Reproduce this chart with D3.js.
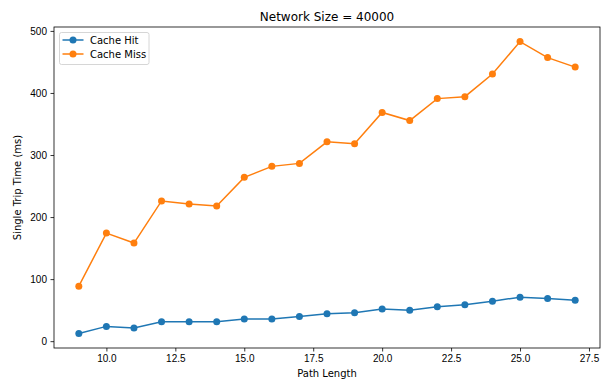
<!DOCTYPE html>
<html>
<head>
<meta charset="utf-8">
<script src="https://cdn.jsdelivr.net/npm/d3@7"></script>
<style>
  html, body { margin: 0; padding: 0; background: #fff; }
  svg { display: block; font-family: "DejaVu Sans", sans-serif; }
</style>
</head>
<body>
<svg id="chart" width="605" height="381"></svg>
<script>
// Path lengths measured
const pathLengths = [9, 10, 11, 12, 13, 14, 15, 16, 17, 18, 19, 20, 21, 22, 23, 24, 25, 26, 27];
// Single trip time (ms) per path length
const cacheHit  = [12.5, 23.8, 21.1, 31.3, 31.3, 31.3, 35.6, 35.6, 39.8, 44.3, 45.7, 51.7, 50.0, 55.4, 58.6, 64.5, 70.9, 68.7, 66.1];
const cacheMiss = [88.6, 174.2, 158.1, 226.0, 221.2, 218.0, 264.0, 281.7, 286.5, 321.3, 318.0, 368.6, 355.5, 390.9, 394.0, 430.5, 482.8, 457.0, 441.7];
const xTicks = [10, 12.5, 15, 17.5, 20, 22.5, 25, 27.5];
const yTicks = [0, 100, 200, 300, 400, 500];
const seriesNames = ["Cache Hit", "Cache Miss"];
const seriesColors = ["#1f77b4", "#ff7f0e"];

const series = [
  { name: seriesNames[0], color: seriesColors[0], values: cacheHit },
  { name: seriesNames[1], color: seriesColors[1], values: cacheMiss }
];

const svg = d3.select("#chart");
const plot = { left: 54, right: 600, top: 27, bottom: 348 };

// Matplotlib-style 5% margins around the data range
const xMin = d3.min(pathLengths), xMax = d3.max(pathLengths);
const xPad = (xMax - xMin) * 0.05;
const allY = cacheHit.concat(cacheMiss);
const yMin = d3.min(allY), yMax = d3.max(allY);
const yPad = (yMax - yMin) * 0.05;

const x = d3.scaleLinear().domain([xMin - xPad, xMax + xPad]).range([plot.left, plot.right]);
const y = d3.scaleLinear().domain([yMin - yPad, yMax + yPad]).range([plot.bottom, plot.top]);

// Axes
const xAxis = d3.axisBottom(x).tickValues(xTicks).tickFormat(d3.format(".1f")).tickSize(3.5).tickPadding(3.5);
const yAxis = d3.axisLeft(y).tickValues(yTicks).tickFormat(d3.format("d")).tickSize(3.5).tickPadding(3.5);

const gx = svg.append("g").attr("transform", `translate(0,${plot.bottom})`).call(xAxis);
const gy = svg.append("g").attr("transform", `translate(${plot.left},0)`).call(yAxis);
[gx, gy].forEach(g => {
  g.select(".domain").remove();
  g.selectAll(".tick line").attr("stroke", "#000").attr("stroke-width", 0.8);
  g.selectAll(".tick text").attr("fill", "#000").style("font-size", "10px");
});

// Frame
svg.append("rect")
  .attr("x", plot.left).attr("y", plot.top)
  .attr("width", plot.right - plot.left).attr("height", plot.bottom - plot.top)
  .attr("fill", "none").attr("stroke", "#000").attr("stroke-width", 0.8);

// Lines and markers
const line = d3.line().x((d, i) => x(pathLengths[i])).y(d => y(d));
series.forEach(s => {
  svg.append("path")
    .datum(s.values)
    .attr("d", line)
    .attr("fill", "none")
    .attr("stroke", s.color)
    .attr("stroke-width", 1.5);
  svg.append("g").selectAll("circle")
    .data(s.values)
    .join("circle")
    .attr("cx", (d, i) => x(pathLengths[i]))
    .attr("cy", d => y(d))
    .attr("r", 3.5)
    .attr("fill", s.color);
});

// Title and axis labels
svg.append("text")
  .attr("x", (plot.left + plot.right) / 2).attr("y", 21)
  .attr("text-anchor", "middle")
  .style("font-size", "12px")
  .text("Network Size = 40000");

svg.append("text")
  .attr("x", (plot.left + plot.right) / 2).attr("y", 377)
  .attr("text-anchor", "middle")
  .style("font-size", "10px")
  .text("Path Length");

svg.append("text")
  .attr("transform", `translate(21,${(plot.top + plot.bottom) / 2}) rotate(-90)`)
  .attr("text-anchor", "middle")
  .style("font-size", "10px")
  .text("Single Trip Time (ms)");

// Legend
const legend = svg.append("g").attr("transform", "translate(59.5,32.5)");
legend.append("rect")
  .attr("width", 89.5).attr("height", 32)
  .attr("rx", 2)
  .attr("fill", "#fff").attr("fill-opacity", 0.8)
  .attr("stroke", "#ccc").attr("stroke-width", 0.8);
series.forEach((s, i) => {
  const cy = 7.5 + i * 14;
  legend.append("line")
    .attr("x1", 3).attr("x2", 24).attr("y1", cy).attr("y2", cy)
    .attr("stroke", s.color).attr("stroke-width", 1.5);
  legend.append("circle")
    .attr("cx", 13.5).attr("cy", cy).attr("r", 3.5).attr("fill", s.color);
  legend.append("text")
    .attr("x", 30.5).attr("y", cy + 3.6)
    .style("font-size", "10px")
    .text(s.name);
});
</script>
</body>
</html>
